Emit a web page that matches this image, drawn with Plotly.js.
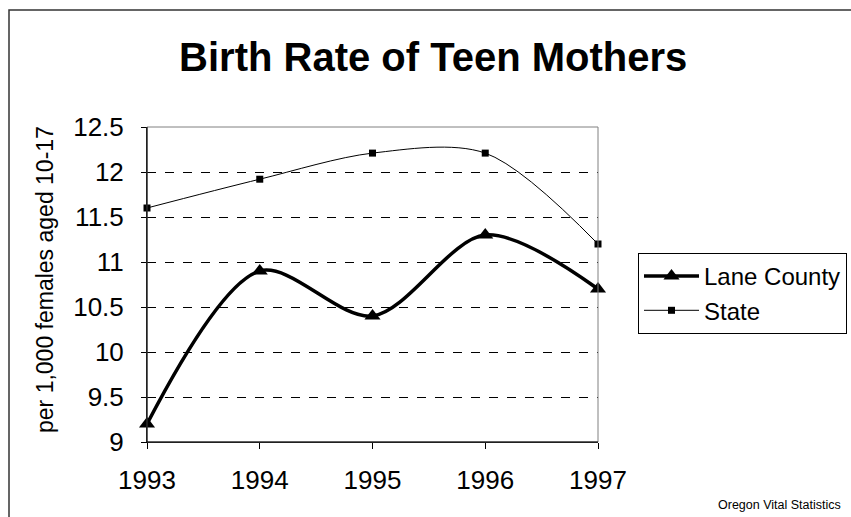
<!DOCTYPE html>
<html>
<head>
<meta charset="utf-8">
<script src="https://cdn.plot.ly/plotly-3.0.1.min.js"></script>
<style>html,body{margin:0;padding:0;background:#fff;}#chart{width:851px;height:517px;}</style>
</head>
<body>
<div id="chart"></div>
<script>
const years = [1993, 1994, 1995, 1996, 1997];
const laneCounty = [9.2, 10.9, 10.4, 11.3, 10.7];
const state = [11.6, 11.92, 12.21, 12.21, 11.2];
const yTicks = [9, 9.5, 10, 10.5, 11, 11.5, 12, 12.5];
const yTickText = ['9', '9.5', '10', '10.5', '11', '11.5', '12', '12.5'];

const FONT = 'Liberation Sans, Arial, sans-serif';

const traces = [
  {
    x: years, y: laneCounty, name: 'Lane County', type: 'scatter', mode: 'lines+markers',
    line: {color: '#000', width: 3.5, shape: 'spline', smoothing: 0.9},
    marker: {symbol: 'triangle-up', size: 14, color: '#000'},
    cliponaxis: false
  },
  {
    x: years, y: state, name: 'State', type: 'scatter', mode: 'lines+markers',
    line: {color: '#000', width: 1, shape: 'spline', smoothing: 0.9},
    marker: {symbol: 'square', size: 7, color: '#000'},
    cliponaxis: false
  }
];

const layout = {
  width: 851, height: 517,
  margin: {l: 147, r: 253, t: 127, b: 75, autoexpand: false},
  paper_bgcolor: '#fff', plot_bgcolor: '#fff',
  font: {family: FONT, color: '#000', size: 24},
  title: {
    text: '<b>Birth Rate of Teen Mothers</b>',
    font: {family: FONT, size: 40, color: '#000'},
    x: 0.509, xref: 'container', xanchor: 'center',
    y: 1 - 57 / 517, yref: 'container', yanchor: 'middle'
  },
  xaxis: {
    range: [1993, 1997], tickvals: years, ticktext: years.map(String),
    showgrid: false, zeroline: false, showline: true, linecolor: '#000', linewidth: 1,
    ticks: 'outside', ticklen: 6, tickcolor: '#000', ticklabelstandoff: 9,
    tickfont: {family: FONT, size: 26, color: '#000'}
  },
  yaxis: {
    range: [9, 12.5], tickvals: yTicks, ticktext: yTickText,
    showgrid: true, gridcolor: '#000', griddash: 'dash', gridwidth: 1,
    zeroline: false, showline: true, linecolor: '#000', linewidth: 1,
    ticks: 'outside', ticklen: 5, tickcolor: '#000', ticklabelstandoff: 12,
    tickfont: {family: FONT, size: 26, color: '#000'}
  },
  showlegend: true,
  legend: {
    x: (638 - 147) / 451, y: 0.6, xanchor: 'left', yanchor: 'top',
    bordercolor: '#000', borderwidth: 1, bgcolor: '#fff',
    font: {family: FONT, size: 24, color: '#000'},
    itemwidth: 55, tracegroupgap: 0
  },
  shapes: [
    {type: 'rect', xref: 'paper', yref: 'paper', x0: 0, x1: 1, y0: 0, y1: 1,
     line: {color: '#808080', width: 1}, layer: 'above'},
    {type: 'line', xref: 'paper', yref: 'paper', x0: 0, x1: 0, y0: 0, y1: 1,
     line: {color: '#000', width: 1}, layer: 'above'},
    {type: 'line', xref: 'paper', yref: 'paper', x0: 0, x1: 1, y0: 0, y1: 0,
     line: {color: '#000', width: 1}, layer: 'above'},
    {type: 'rect', xref: 'paper', yref: 'paper', x0: (9 - 147) / 451, x1: 2, y0: -1, y1: (442 - 10) / 315,
     line: {color: '#333', width: 1.5}, layer: 'above'}
  ],
  annotations: [
    {text: 'per 1,000 females aged 10-17', textangle: -90,
     xref: 'paper', yref: 'paper', x: (45 - 147) / 451, y: (442 - 280) / 315,
     xanchor: 'center', yanchor: 'middle', showarrow: false,
     font: {family: FONT, size: 23, color: '#000'}},
    {text: 'Oregon Vital Statistics',
     xref: 'paper', yref: 'paper', x: (716 - 147) / 451, y: (442 - 505) / 315,
     xanchor: 'left', yanchor: 'middle', showarrow: false,
     font: {family: FONT, size: 12.5, color: '#000'}}
  ]
};

Plotly.newPlot('chart', traces, layout, {staticPlot: true, displayModeBar: false});
</script>
</body>
</html>
